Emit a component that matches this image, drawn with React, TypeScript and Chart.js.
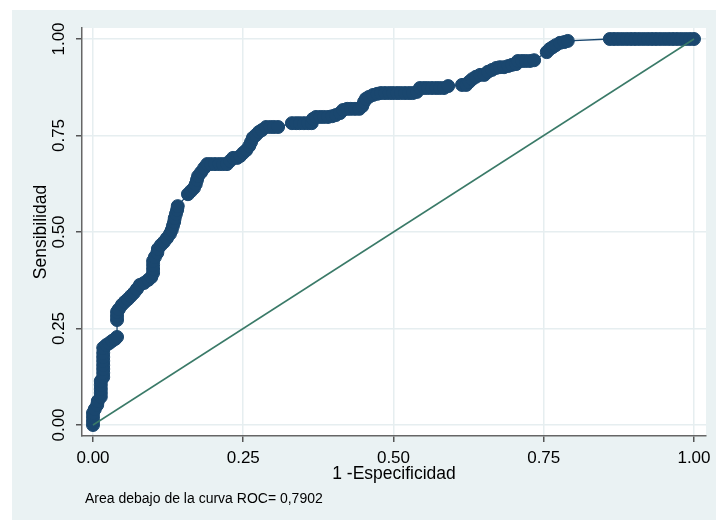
import { useEffect, useRef } from "react";
import { Chart, registerables } from "chart.js";
Chart.register(...registerables);

// ROC curve points (1 - specificity, sensitivity)
const rocFpr = [
  0, 0, 0, 0,
  0.003, 0.007, 0.008,
  0.013, 0.013, 0.013, 0.013, 0.013,
  0.017, 0.017, 0.017, 0.017, 0.017, 0.017, 0.017,
  0.017, 0.022, 0.027, 0.032, 0.037, 0.04,
  0.04, 0.04, 0.04, 0.043, 0.048, 0.053, 0.058, 0.063, 0.068, 0.073, 0.078, 0.085, 0.092, 0.097,
  0.1, 0.1, 0.1, 0.1, 0.103, 0.107, 0.108, 0.113, 0.118, 0.123, 0.128, 0.131, 0.133, 0.135, 0.136, 0.138, 0.14, 0.141,
  0.158, 0.163, 0.168, 0.171, 0.173, 0.175, 0.18, 0.185, 0.19, 0.196, 0.203, 0.21, 0.216, 0.223, 0.228, 0.233, 0.24,
  0.245, 0.25, 0.255, 0.26, 0.263, 0.266, 0.271, 0.276, 0.281, 0.288, 0.295, 0.301, 0.308,
  0.331, 0.338, 0.344, 0.351, 0.358, 0.364, 0.366, 0.371, 0.378, 0.384, 0.391, 0.398, 0.404, 0.411, 0.416,
  0.423, 0.429, 0.436, 0.443, 0.448, 0.451, 0.454, 0.459, 0.466, 0.473, 0.479, 0.486, 0.493, 0.499, 0.506,
  0.512, 0.519, 0.526, 0.532, 0.539, 0.544, 0.551, 0.557, 0.564, 0.571, 0.577, 0.584, 0.591,
  0.614, 0.621, 0.626, 0.631, 0.637, 0.644, 0.651, 0.657, 0.664, 0.671, 0.677, 0.684, 0.691, 0.697, 0.704,
  0.707, 0.714, 0.72, 0.727, 0.734,
  0.755, 0.76, 0.765, 0.77, 0.777, 0.784, 0.79,
  0.86, 0.867, 0.874, 0.881, 0.888, 0.895, 0.902, 0.909, 0.916, 0.923, 0.93, 0.937, 0.944, 0.951, 0.958,
  0.965, 0.972, 0.979, 0.986, 0.993, 1.0,
];
const rocTpr = [
  0, 0.01, 0.021, 0.031,
  0.041, 0.052, 0.062,
  0.073, 0.083, 0.093, 0.104, 0.114,
  0.124, 0.135, 0.145, 0.155, 0.166, 0.176, 0.187,
  0.2, 0.207, 0.212, 0.218, 0.223, 0.228,
  0.272, 0.282, 0.293, 0.3, 0.311, 0.319, 0.326, 0.334, 0.342, 0.352, 0.363, 0.368, 0.376, 0.383,
  0.394, 0.404, 0.415, 0.425, 0.435, 0.446, 0.456, 0.466, 0.474, 0.484, 0.495, 0.505, 0.516, 0.526, 0.536, 0.547, 0.557, 0.567,
  0.598, 0.606, 0.614, 0.624, 0.635, 0.645, 0.655, 0.666, 0.676, 0.676, 0.676, 0.676, 0.676, 0.676, 0.684, 0.692, 0.692,
  0.697, 0.705, 0.712, 0.723, 0.733, 0.744, 0.751, 0.759, 0.764, 0.772, 0.772, 0.772, 0.772,
  0.782, 0.782, 0.782, 0.782, 0.782, 0.782, 0.793, 0.798, 0.798, 0.798, 0.798, 0.8, 0.803, 0.808, 0.816,
  0.819, 0.819, 0.819, 0.819, 0.826, 0.837, 0.845, 0.85, 0.855, 0.858, 0.86, 0.86, 0.86, 0.86, 0.86,
  0.86, 0.86, 0.86, 0.86, 0.863, 0.873, 0.873, 0.873, 0.873, 0.873, 0.873, 0.873, 0.878,
  0.881, 0.881, 0.889, 0.896, 0.902, 0.907, 0.907, 0.915, 0.92, 0.925, 0.927, 0.927, 0.93, 0.933, 0.935,
  0.943, 0.943, 0.943, 0.943, 0.945,
  0.966, 0.974, 0.979, 0.984, 0.99, 0.992, 0.995,
  1, 1, 1, 1, 1, 1, 1, 1, 1, 1, 1, 1, 1, 1, 1,
  1, 1, 1, 1, 1, 1,
];

// Reference (chance) line
const refX = [0, 1];
const refY = [0, 1];

const tickValues = [0, 0.25, 0.5, 0.75, 1];
const xTitle = "1 -Especificidad";
const yTitle = "Sensibilidad";
const note = "Area debajo de la curva ROC= 0,7902";

const FONT = "'Liberation Sans', Arial, sans-serif";
const NAVY = "#1a476f";
const GREEN = "#3a7a68";

export default function App() {
  const ref = useRef<HTMLCanvasElement>(null);

  useEffect(() => {
    document.body.style.margin = "0";
    const canvas = ref.current;
    if (!canvas) return;

    const bgPlugin = {
      id: "stataBg",
      beforeDraw(chart: any) {
        const { ctx, width, height, chartArea } = chart;
        ctx.save();
        ctx.fillStyle = "#ffffff";
        ctx.fillRect(0, 0, width, height);
        ctx.fillStyle = "#eaf2f3";
        ctx.fillRect(12, 10, width - 12, height - 10);
        ctx.fillStyle = "#ffffff";
        ctx.fillRect(
          chartArea.left,
          chartArea.top,
          chartArea.right - chartArea.left,
          chartArea.bottom - chartArea.top
        );
        ctx.restore();
      },
      afterDraw(chart: any) {
        const { ctx } = chart;
        ctx.save();
        ctx.font = `14px ${FONT}`;
        ctx.fillStyle = "#000000";
        ctx.textAlign = "left";
        ctx.textBaseline = "alphabetic";
        ctx.fillText(note, 85, 503);
        ctx.restore();
      },
    };

    const setTicks = (scale: any) => {
      scale.ticks = tickValues.map((v) => ({ value: v }));
    };

    const chart = new Chart(canvas, {
      type: "scatter",
      data: {
        datasets: [
          {
            label: "Referencia",
            data: refX.map((x, i) => ({ x, y: refY[i] })),
            showLine: true,
            borderColor: GREEN,
            borderWidth: 1.5,
            pointRadius: 0,
            pointHoverRadius: 0,
          },
          {
            label: "ROC",
            data: rocFpr.map((x, i) => ({ x, y: rocTpr[i] })),
            showLine: true,
            borderColor: NAVY,
            borderWidth: 1.3,
            pointRadius: 6.5,
            pointBorderWidth: 1,
            pointBackgroundColor: NAVY,
            pointBorderColor: NAVY,
          },
        ],
      },
      options: {
        responsive: false,
        animation: false,
        events: [],
        layout: { padding: { left: 12, top: 28, right: 10, bottom: 0 } },
        plugins: {
          legend: { display: false },
          tooltip: { enabled: false },
        },
        scales: {
          x: {
            type: "linear",
            min: -0.0183,
            max: 1.02,
            afterBuildTicks: setTicks,
            afterFit: (s: any) => {
              s.height = 84;
              s.paddingLeft = 0;
              s.paddingRight = 0;
            },
            grid: {
              color: "#e6eef0",
              lineWidth: 1.5,
              drawTicks: true,
              tickLength: 6,
              tickColor: "#555555",
              tickWidth: 1.5,
            },
            border: { display: true, color: "#666666", width: 1.5 },
            ticks: {
              color: "#000000",
              font: { family: FONT, size: 17 },
              padding: 6,
              maxRotation: 0,
              callback: (v: any) => Number(v).toFixed(2),
            },
            title: {
              display: true,
              text: xTitle,
              color: "#000000",
              font: { family: FONT, size: 17.5 },
              padding: { top: 0, bottom: 35 },
            },
          },
          y: {
            type: "linear",
            min: -0.0285,
            max: 1.0285,
            afterBuildTicks: setTicks,
            afterFit: (s: any) => {
              s.width = 70;
              s.paddingTop = 0;
              s.paddingBottom = 0;
            },
            grid: {
              color: "#e6eef0",
              lineWidth: 1.5,
              drawTicks: true,
              tickLength: 6,
              tickColor: "#555555",
              tickWidth: 1.5,
            },
            border: { display: true, color: "#666666", width: 1.5 },
            ticks: {
              color: "#000000",
              font: { family: FONT, size: 17 },
              padding: 0,
              minRotation: 90,
              maxRotation: 90,
              crossAlign: "center",
              callback: (v: any) => Number(v).toFixed(2),
            },
            title: {
              display: true,
              text: yTitle,
              color: "#000000",
              font: { family: FONT, size: 17.5 },
              padding: { top: 19, bottom: 0 },
            },
          },
        },
      },
      plugins: [bgPlugin],
    } as any);

    return () => chart.destroy();
  }, []);

  return (
    <div style={{ width: 716, height: 520 }}>
      <canvas ref={ref} width={716} height={520} style={{ display: "block" }} />
    </div>
  );
}
